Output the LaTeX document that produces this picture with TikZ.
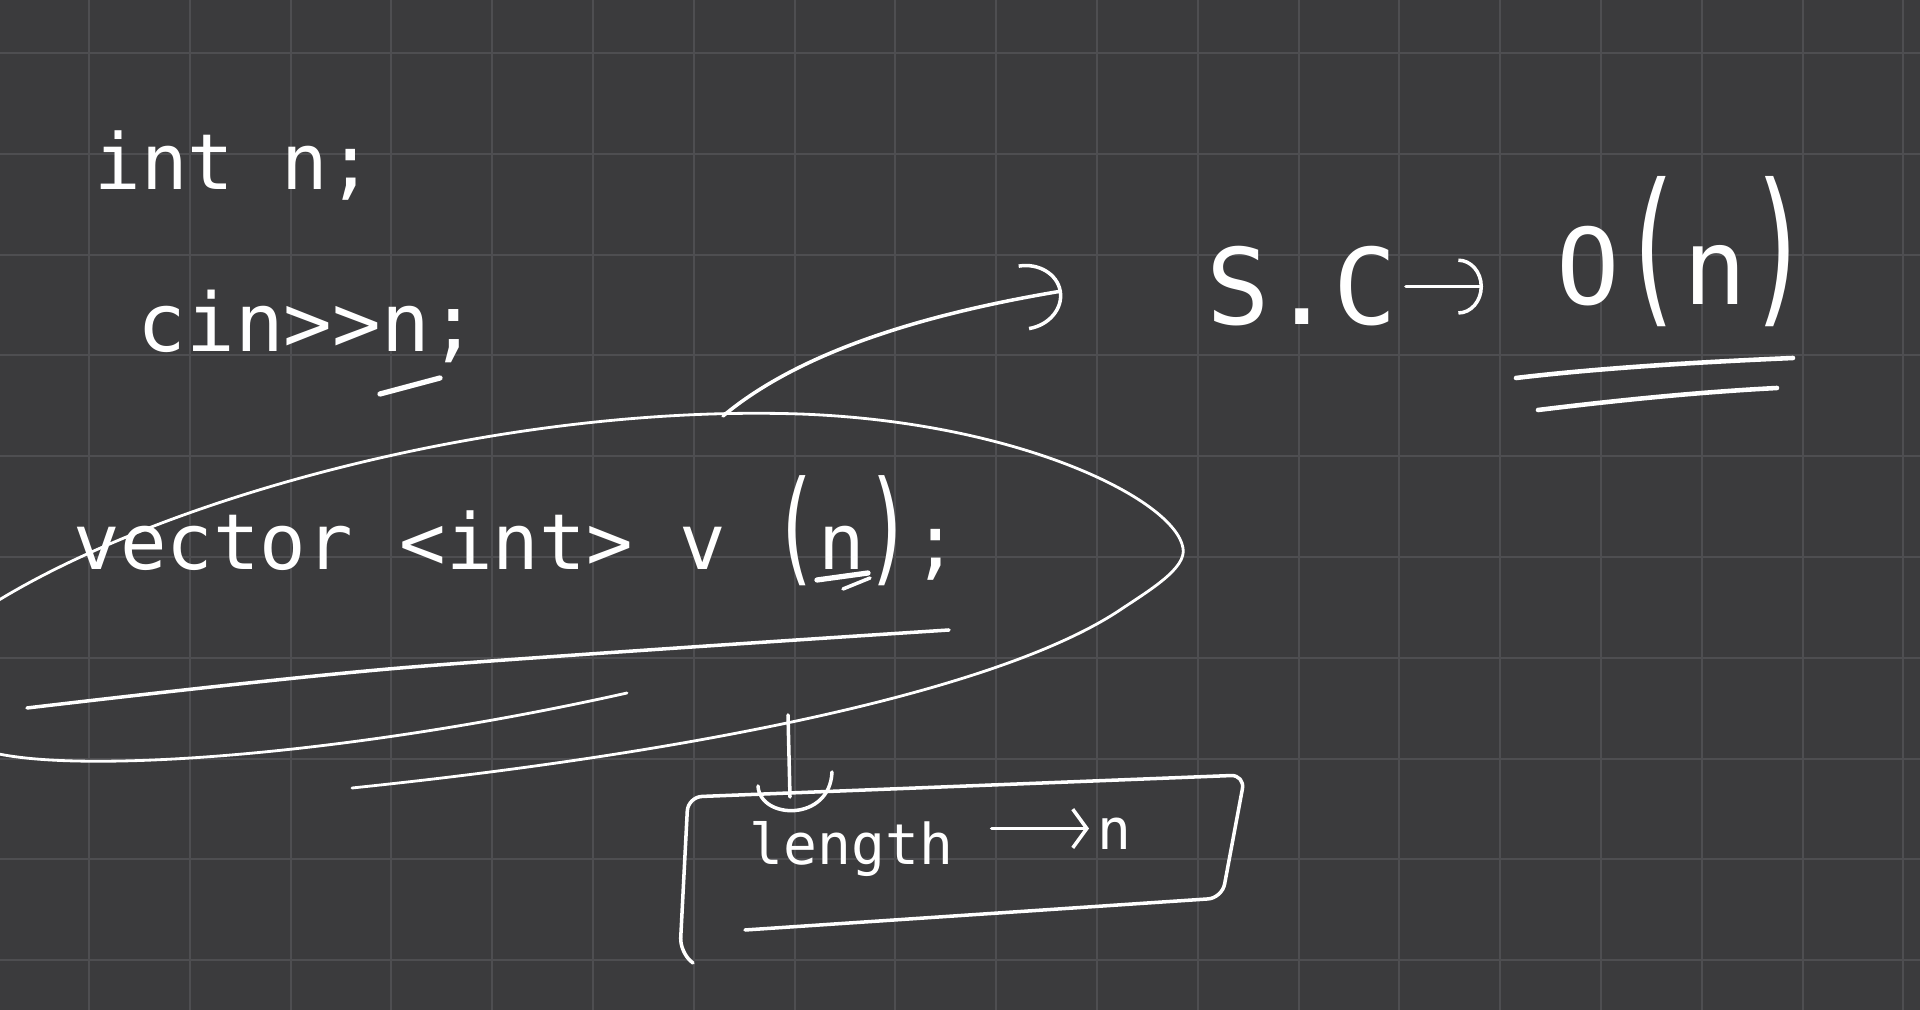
\documentclass[tikz,border=0pt]{standalone}
\usepackage{fontspec}
\setmonofont{DejaVu Sans Mono}
\usepackage{graphicx}
\usetikzlibrary{arrows.meta, calc}

\definecolor{board}{HTML}{3B3B3D}
\definecolor{gridgray}{HTML}{4E4E51}

\newcommand{\tallL}{\scalebox{1}[1.6]{(}}
\newcommand{\tallR}{\scalebox{1}[1.6]{)}}

\begin{document}
\begin{tikzpicture}[
    x=0.01cm, y=-0.01cm,
    grid line/.style={draw=gridgray, line width=0.6pt},
    pen/.style={draw=white, line width=1pt, line cap=round, line join=round},
    thin pen/.style={pen, line width=0.8pt},
    thick pen/.style={pen, line width=1.5pt},
    code/.style={text=white, inner sep=0pt, anchor=base west, font=\ttfamily\fontsize{22}{26}\selectfont},
    big code/.style={code, font=\ttfamily\fontsize{30}{36}\selectfont},
    small code/.style={code, font=\ttfamily\fontsize{16}{19}\selectfont}
]

% --- Board and grid ---
\useasboundingbox (0,0) rectangle (1920,1010);
\clip (0,0) rectangle (1920,1010);
\fill[board] (0,0) rectangle (1920,1010);
\foreach \k in {0,...,18}
    \draw[grid line] ({89+100.8*\k},0) -- ({89+100.8*\k},1010);
\foreach \k in {0,...,9}
    \draw[grid line] (0,{53+100.8*\k}) -- (1920,{53+100.8*\k});

% --- Code lines ---
\node[code] (decl) at (94,190) {int n;};
\node[code, font=\ttfamily\fontsize{23}{27}\selectfont] (input) at (137,352) {cin>>n;};
\node[code] (vec) at (73,570) {vector <int> v \tallL n\tallR;};

% underlines under n
\draw[thick pen] (380,394) -- (440,378);
\draw[thick pen] (817,580) -- (868,573);
\draw[pen] (843,589) -- (870,578);

% --- Loop round the vector line ---
\draw[thin pen] (352,788) .. controls (700,752) and (1000,690) .. (1120,610)
    .. controls (1150,590) and (1187,568) .. (1183,548)
    .. controls (1175,500) and (1020,422) .. (800,414)
    .. controls (500,404) and (150,500) .. (-20,612);
\draw[thin pen] (-10,752) .. controls (80,775) and (350,755) .. (627,693);
\draw[pen] plot[smooth] coordinates {(27,708) (400,668) (949,630)};

% --- Space complexity ---
\node[big code] (sc) at (1206,325) {S.C};
\node[big code] (order) at (1556,305) {O\tallL n\tallR};
\draw[pen, -{Arc Barb[width=16pt, length=7pt]}] ($(sc.east)+(8,0)$) -- ($(order.west |- sc.east)+(-73,0)$);
\draw[pen, line width=1.3pt] (1516,378) .. controls (1600,368) and (1700,362) .. (1793,358);
\draw[pen, line width=1.3pt] (1538,410) .. controls (1620,400) and (1700,392) .. (1777,388);

\coordinate (looptop) at (723,416);
\coordinate (scmark) at (1062,291);
\draw[pen, -{Arc Barb[width=19pt, length=11pt]}] (looptop) .. controls (790,360) and (900,318) .. (scmark);

% --- Length box ---
\coordinate (loopbottom) at (788,715);
\coordinate (boxtop) at (790,797);
\draw[pen] (loopbottom) -- (boxtop);
\draw[pen] (758,786) .. controls (760,820) and (830,822) .. (832,772);
\draw[pen, rounded corners=4pt] (693,963) -- (680,952) -- (688,797) -- (1245,775) -- (1222,898) -- (745,930);

\node[small code] (len) at (749,865) {length};
\node[small code] (lenval) at (1097,850) {n};
\draw[pen, -{Straight Barb[width=11pt, length=4pt]}] ($(len.east)+(38,-21)$) -- ($(lenval.west |- len.east)+(-8,-21)$);

\end{tikzpicture}
\end{document}
